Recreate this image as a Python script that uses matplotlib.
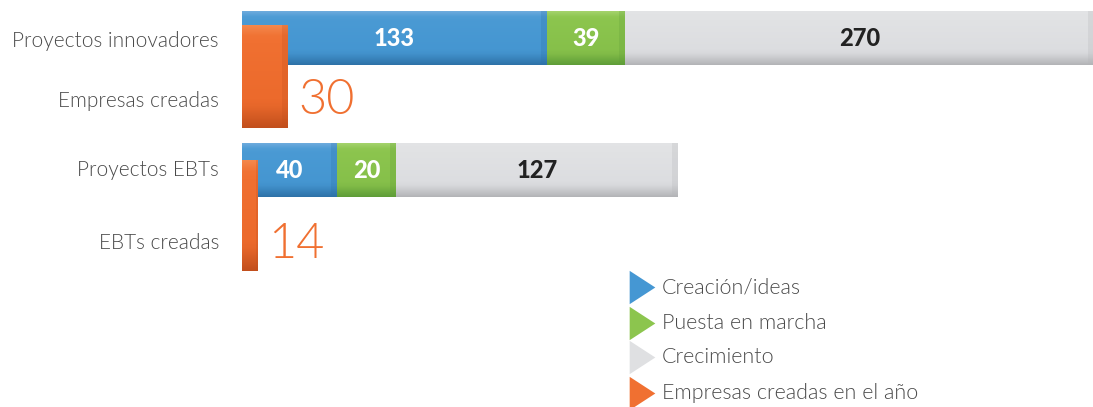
import numpy as np
import matplotlib
matplotlib.use("Agg")
import matplotlib.pyplot as plt
from matplotlib.colors import LinearSegmentedColormap

plt.rcParams['font.family'] = ['Lato', 'DejaVu Sans']

# data
categories = ['Proyectos innovadores', 'Empresas creadas', 'Proyectos EBTs', 'EBTs creadas']
stages = ['Creación/ideas', 'Puesta en marcha', 'Crecimiento']
innov_vals = [133, 39, 270]
ebt_vals = [40, 20, 127]
created_vals = [30, 14]
legend_labels = ['Creación/ideas', 'Puesta en marcha', 'Crecimiento', 'Empresas creadas en el año']

# drawn lengths of the segments in the original graphic (not proportional to the values)
innov_len = [305, 78, 469]
ebt_len = [95, 59, 282]
created_len = [46, 16]

# colour ramps: top, middle, bottom
ramps = {
    'blue': ['#6eabdd', '#4a9ad4', '#4596d1', '#2e72a8'],
    'green': ['#a4d36c', '#8cc54e', '#86c04a', '#5f9d38'],
    'gray': ['#e3e4e6', '#e1e2e4', '#dcdde0', '#b3b4b7'],
    'orange': ['#f4884c', '#f07031', '#ec6a2c', '#c24f1d'],
}
legend_colors = ['#4597d3', '#8cc54e', '#dfe0e2', '#f07031']

fig = plt.figure(figsize=(10.93, 4.07), dpi=100)
ax = fig.add_axes([0, 0, 1, 1])
ax.set_xlim(0, 1093)
ax.set_ylim(407, 0)
ax.axis('off')

x0 = 242


def shaded_bar(left, width, top, height, ramp):
    bar = ax.barh(top + height / 2, width, height=height, left=left,
                  color=ramps[ramp][1], linewidth=0, zorder=2)[0]
    cmap = LinearSegmentedColormap.from_list(ramp, ramps[ramp])
    grad = np.concatenate([np.linspace(0, 0.3, 10), np.linspace(0.3, 0.7, 60),
                           np.linspace(0.7, 1, 20)])[:, None]
    img = ax.imshow(grad, cmap=cmap, aspect='auto', vmin=0, vmax=1,
                    extent=[left, left + width, top + height, top], zorder=2)
    img.set_clip_path(bar)
    # darker right edge
    edge = min(6, width * 0.15)
    ax.barh(top + height / 2, edge, height=height, left=left + width - edge,
            color=ramps[ramp][3], alpha=0.25, linewidth=0, zorder=2)
    return bar


def stacked(lengths, vals, top, height):
    left = x0
    for ln, v, r in zip(lengths, vals, ['blue', 'green', 'gray']):
        shaded_bar(left, ln, top, height, r)
        ax.text(left + ln / 2, top + height / 2, str(v), ha='center', va='center',
                fontsize=17, fontweight=900,
                color='#222222' if r == 'gray' else 'white', zorder=4)
        left += ln


stacked(innov_len, innov_vals, 11, 54)
stacked(ebt_len, ebt_vals, 143, 54)

# orange bars for companies created
for ln, v, top, h, ty in zip(created_len, created_vals, [25, 160], [103, 111], [101, 245]):
    shaded_bar(x0, ln, top, h, 'orange')
    ax.text(x0 + ln + 10, ty, str(v), ha='left', va='center', fontsize=35,
            fontweight=300, color='#f07031', zorder=4)

# category labels
for lab, y in zip(categories, [41, 101, 170, 243]):
    ax.text(219, y, lab, ha='right', va='center', fontsize=15, fontweight=300,
            color='#4a4a4a')

# legend
tri = [(-0.5, -0.65), (0.5, 0), (-0.5, 0.65), (-0.5, -0.65)]
for lab, c, y in zip(legend_labels, legend_colors, [287, 323, 357, 393]):
    ax.plot(642, y, marker=tri, markersize=24, color=c, markeredgewidth=0, zorder=3)
    ax.text(662, y, lab, ha='left', va='center', fontsize=15.5, fontweight=300,
            color='#4a4a4a')

fig.savefig('out.png', dpi=100)
